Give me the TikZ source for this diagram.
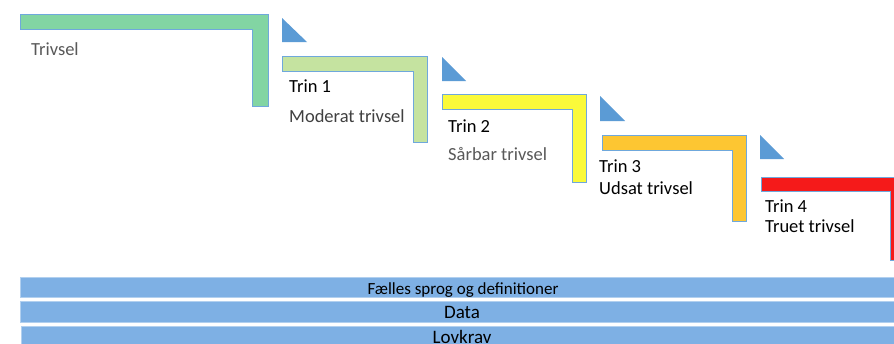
\documentclass[tikz,border=0pt]{standalone}
\usepackage{fontspec}
\setmainfont{Carlito}
\definecolor{cgreen}{HTML}{82D5A3}
\definecolor{clight}{HTML}{C5E3A0}
\definecolor{cyellow}{HTML}{FAFA3A}
\definecolor{corange}{HTML}{FDC632}
\definecolor{cred}{HTML}{F51A1A}
\definecolor{cblue}{HTML}{5B9BD5}
\definecolor{cbar}{HTML}{7EB0E4}
\definecolor{cedge}{HTML}{6FA8DC}
\definecolor{ctext}{HTML}{404040}
\definecolor{clighttext}{HTML}{595959}
\tikzset{
  lshape/.style={draw=cedge, line width=0.8pt},
  tri/.style={fill=cblue, draw=none},
  bar/.style={fill=cbar, draw=cbar!60!white, line width=0.6pt},
  steptext/.style={anchor=base west, inner sep=0pt, font=\fontsize{18.5}{20}\selectfont, text=black},
  subtext/.style={anchor=base west, inner sep=0pt, font=\fontsize{18.5}{20}\selectfont, text=ctext},
  bartext/.style={anchor=base, inner sep=0pt, font=\fontsize{19}{21}\selectfont, text=black},
}
\begin{document}
\begin{tikzpicture}[x=1pt,y=-1pt]
\clip (0,0) rectangle (894,343);
\fill[white] (0,0) rectangle (894,343);
% L shapes
\filldraw[lshape, fill=cgreen] (20,14) -- (268,14) -- (268,106) -- (252,106) -- (252,29) -- (20,29) -- cycle;
\filldraw[lshape, fill=clight] (282,56) -- (427,56) -- (427,142) -- (413,142) -- (413,71) -- (282,71) -- cycle;
\filldraw[lshape, fill=cyellow] (442,94) -- (586,94) -- (586,182) -- (572,182) -- (572,109) -- (442,109) -- cycle;
\filldraw[lshape, fill=corange] (602,135) -- (746,135) -- (746,221) -- (732,221) -- (732,150) -- (602,150) -- cycle;
\filldraw[lshape, fill=cred] (761,177) -- (904,177) -- (904,260) -- (890,260) -- (890,191) -- (761,191) -- cycle;
% triangles
\fill[tri] (282,18) -- (282,42) -- (307,42) -- cycle;
\fill[tri] (442,57) -- (442,81) -- (466,81) -- cycle;
\fill[tri] (600,96) -- (600,121) -- (625,121) -- cycle;
\fill[tri] (760,135) -- (760,159) -- (784,159) -- cycle;
% texts
\node[subtext, text=clighttext] (t0) at (31,55) {Trivsel};
\node[steptext] (s1) at (289,92) {Trin 1};
\node[subtext] (t1) at (289,122) {Moderat trivsel};
\node[steptext] (s2) at (448,132) {Trin 2};
\node[subtext, text=clighttext] (t2) at (448,160) {Sårbar trivsel};
\node[steptext] (s3) at (599,172) {Trin 3};
\node[steptext] (t3) at (599,194) {Udsat trivsel};
\node[steptext] (s4) at (765,212) {Trin 4};
\node[steptext] (t4) at (765,232) {Truet trivsel};
% bars
\filldraw[bar] (20,277) rectangle (900,297);
\filldraw[bar] (20,301) rectangle (900,322);
\filldraw[bar] (21,326) rectangle (900,350);
\node[bartext, font=\fontsize{17}{19}\selectfont] (b1) at (463,294) {Fælles sprog og definitioner};
\node[bartext] (b2) at (462,318) {Data};
\node[bartext] (b3) at (462,343) {Lovkrav};
\end{tikzpicture}
\end{document}
